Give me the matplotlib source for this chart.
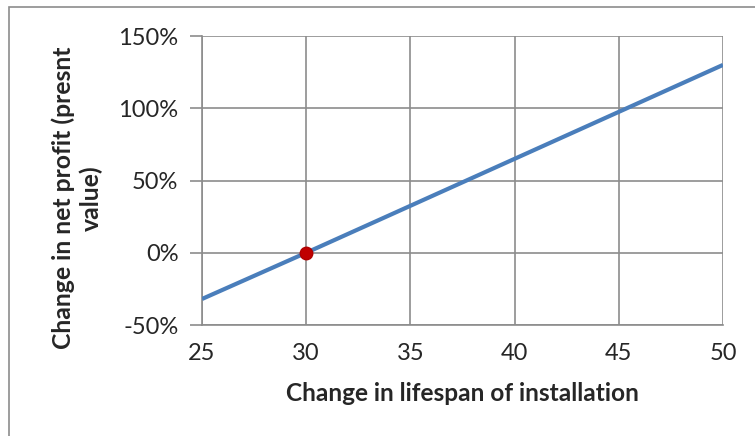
import matplotlib
matplotlib.use("Agg")
import matplotlib.pyplot as plt
from matplotlib.ticker import FuncFormatter
from matplotlib.patches import Rectangle

lifespan = [25, 30, 35, 40, 45, 50]
net_profit_change = [-32, 0, 32.5, 65, 97.5, 130]
base_x = [30]
base_y = [0]
x_ticks = [25, 30, 35, 40, 45, 50]
y_ticks = [-50, 0, 50, 100, 150]

W, H = 755, 436
fig = plt.figure(figsize=(W / 100, H / 100), dpi=100)
plt.rcParams['font.family'] = ['Lato', 'DejaVu Sans']

# outer chart border
fig.patches.append(Rectangle((9 / W, -0.1), 1.2, 1 - 7 / H + 0.1, transform=fig.transFigure,
                             fill=False, edgecolor='#8c8c8c', linewidth=1.2))

ax = fig.add_axes([202 / W, 1 - 325 / H, (723 - 202) / W, (325 - 36) / H])
ax.plot(lifespan, net_profit_change, color='#4a7ebb', linewidth=3, solid_capstyle='butt', zorder=3)
ax.plot(base_x, base_y, 'o', color='#c00000', markersize=9, markeredgecolor='#b00000', zorder=4)

ax.set_xlim(25, 50)
ax.set_ylim(-50, 150)
ax.set_xticks(x_ticks)
ax.set_yticks(y_ticks)
ax.yaxis.set_major_formatter(FuncFormatter(lambda v, p: f"{int(v)}%"))
ax.grid(True, color='#8c8c8c', linewidth=1.2)
ax.set_axisbelow(True)
for s in ['top', 'right']:
    ax.spines[s].set_visible(False)
ax.spines['left'].set_color('#8c8c8c')
ax.spines['bottom'].set_color('#8c8c8c')
ax.spines['left'].set_linewidth(1.2)
ax.spines['bottom'].set_linewidth(1.2)
ax.tick_params(axis='y', direction='out', length=9, width=1.2, color='#8c8c8c',
               labelsize=17, pad=8, labelcolor='#262626')
ax.tick_params(axis='x', length=0, labelsize=17, pad=13, labelcolor='#262626')

ax.set_xlabel('Change in lifespan of installation', fontsize=17.6, fontweight='bold',
              color='#262626')
ax.xaxis.set_label_coords(0.5, -0.198)
ax.set_ylabel('Change in net profit (presnt\nvalue)', fontsize=17.8, fontweight='bold',
              color='#262626', linespacing=1.22)
ax.yaxis.set_label_coords(-0.19, 0.44)

fig.savefig('out.png', dpi=100)
